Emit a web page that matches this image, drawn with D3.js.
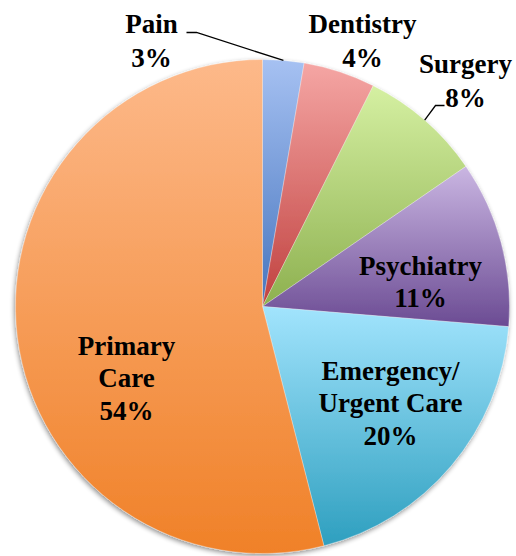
<!DOCTYPE html>
<html>
<head>
<meta charset="utf-8">
<script src="https://cdn.jsdelivr.net/npm/d3@7"></script>
<style>
  body { margin: 0; background: #fff; }
  svg { display: block; }
  .lbl { font-family: "Liberation Serif", "Times New Roman", Times, "DejaVu Serif", serif; font-weight: bold; font-size: 27px; }
</style>
</head>
<body>
<div id="container"></div>
<script>
/* DATA */
const categories = ["Pain", "Dentistry", "Surgery", "Psychiatry", "Emergency/ Urgent Care", "Primary Care"];
const values = [2.7, 4.7, 8.0, 10.9, 19.7, 54.0];
const pctLabels = ["3%", "4%", "8%", "11%", "20%", "54%"];
// label lines per slice (split by hand like the original)
const labelLines = [["Pain"], ["Dentistry"], ["Surgery"], ["Psychiatry"], ["Emergency/", "Urgent Care"], ["Primary", "Care"]];
const topColors = ["#a6c1f2", "#f5a6a4", "#d5f0a2", "#cab6e2", "#a2e4fd", "#fdb98a"];
const bottomColors = ["#4675be", "#c0413f", "#8db04f", "#6b4b93", "#2e9fbf", "#f08128"];

/* CONSTANTS */
const width = 516, height = 556;
const cx = 262.5, cy = 306.5, radius = 247;

const svg = d3.select("#container")
  .append("svg")
  .attr("width", width)
  .attr("height", height);

const defs = svg.append("defs");

// soft shadow like the office chart
const shadow = defs.append("filter")
  .attr("id", "shadow")
  .attr("x", "-10%").attr("y", "-10%")
  .attr("width", "120%").attr("height", "120%");
shadow.append("feGaussianBlur").attr("in", "SourceAlpha").attr("stdDeviation", 2.5);
shadow.append("feOffset").attr("dx", -1).attr("dy", 2).attr("result", "blur");
shadow.append("feComponentTransfer").append("feFuncA").attr("type", "linear").attr("slope", 0.45);
const merge = shadow.append("feMerge");
merge.append("feMergeNode");
merge.append("feMergeNode").attr("in", "SourceGraphic");

// vertical gradient for each slice
categories.forEach((c, i) => {
  const g = defs.append("linearGradient")
    .attr("id", "grad" + i)
    .attr("x1", 0).attr("y1", 0).attr("x2", 0).attr("y2", 1);
  g.append("stop").attr("offset", "0%").attr("stop-color", topColors[i]);
  g.append("stop").attr("offset", "100%").attr("stop-color", bottomColors[i]);
});

const pie = d3.pie().sort(null).value(d => d);
const arcs = pie(values);

const arc = d3.arc().innerRadius(0).outerRadius(radius);

const chart = svg.append("g")
  .attr("transform", `translate(${cx},${cy})`);

const slices = chart.append("g").attr("filter", "url(#shadow)");
slices.selectAll("path")
  .data(arcs)
  .enter()
  .append("path")
  .attr("d", arc)
  .attr("fill", (d, i) => `url(#grad${i})`)
  .attr("stroke", "#ffffff")
  .attr("stroke-opacity", 0.5)
  .attr("stroke-width", 0.6);

/* LABELS */
// label anchor points (center of text block, first baseline), relative to chart center
const labelPos = [
  [-111, -274], [100, -274], [203, -234], [158, -32], [128, 73], [-136, 48]
];
const lineH = 32.5;

const labels = chart.append("g")
  .attr("text-anchor", "middle")
  .attr("fill", "#000");

arcs.forEach((d, i) => {
  const t = labels.append("text")
    .attr("class", "lbl")
    .attr("x", labelPos[i][0])
    .attr("y", labelPos[i][1]);
  const lines = labelLines[i].concat([pctLabels[i]]);
  lines.forEach((ln, j) => {
    t.append("tspan")
      .attr("x", labelPos[i][0])
      .attr("y", labelPos[i][1] + j * (i < 3 ? 34 : lineH))
      .text(ln);
  });
});

// leader lines for Pain and Surgery
const outer = d3.arc().innerRadius(radius).outerRadius(radius);
const painEdge = outer.centroid(arcs[0]);
chart.append("polyline")
  .attr("points", [[-76, -274], [-66, -274], painEdge].map(p => p.join(",")).join(" "))
  .attr("fill", "none")
  .attr("stroke", "#000")
  .attr("stroke-width", 1.3);

const surgEdge = outer.centroid(arcs[2]);
chart.append("polyline")
  .attr("points", [surgEdge, [173, -201], [182, -201]].map(p => p.join(",")).join(" "))
  .attr("fill", "none")
  .attr("stroke", "#000")
  .attr("stroke-width", 1.3);
</script>
</body>
</html>
